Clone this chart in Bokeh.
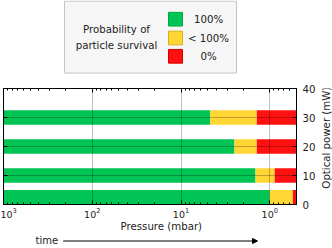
import math
from bokeh.plotting import figure
from bokeh.models import Range1d, LogAxis, LinearAxis, FixedTicker, Arrow, NormalHead
from bokeh.layouts import column, row
from bokeh.core.properties import value
from bokeh.embed import file_html
from bokeh.resources import INLINE

# ---- data ----
power_mw = [2.5, 10, 20, 30]                 # optical power of each run (mW)
green_until = [1.0, 1.45, 2.5, 4.7]          # pressure (mbar) down to which survival is 100%
yellow_until = [0.55, 0.88, 1.4, 1.4]        # pressure (mbar) down to which survival is < 100%
p_start = 1000.0                             # pressure at start (mbar)
p_end = 0.5                                  # lowest pressure shown (mbar)
legend_title = ["Probability of", "particle survival"]
legend_labels = ["100%", "< 100%", "0%"]
x_ticks = [1000, 100, 10, 1]
y_ticks = [0, 10, 20, 30, 40]
y_grid = [10, 20, 30]
x_title = "Pressure (mbar)"
y_title = "Optical power (mW)"
time_label = "time"

colors = ["#00c453", "#ffd633", "#ff1111"]
edges = ["#00a846", "#d9ad1f", "#d40000"]
FONT = "DejaVu Sans"
FS = "10.2px"
TXT = "#222222"
W = 332

def bare(fig):
    fig.grid.visible = False
    fig.outline_line_color = None
    return fig

# ---- legend panel ----
LH = 76
leg = bare(figure(width=W, height=LH, x_range=Range1d(0, W), y_range=Range1d(LH, 0),
                  toolbar_location=None, output_backend="svg", min_border=0,
                  x_axis_location=None, y_axis_location=None))
leg.quad(left=64, right=236, top=0.6, bottom=72.6, fill_color="#f6f6f6", line_color="#c4c4c4")
row_y = [18.7, 37.5, 55.8]
leg.rect(x=175, y=row_y, width=14, height=13.7, fill_color=colors, line_color=edges, line_width=1)
leg.text(x=116, y=[29, 44.5], text=legend_title, text_align="center", text_baseline="middle",
         text_font=value(FONT), text_font_size=FS, text_color=TXT)
leg.text(x=208, y=row_y, text=legend_labels, text_align="center", text_baseline="middle",
         text_font=value(FONT), text_font_size=FS, text_color=TXT)

# ---- main chart ----
MH = 158
PW = 318
p = figure(width=PW, height=MH, x_axis_type="log", x_range=Range1d(p_start, p_end),
           y_range=Range1d(0, 40), y_axis_location="right",
           toolbar_location=None, output_backend="svg",
           min_border_left=3, min_border_right=21, min_border_top=12, min_border_bottom=29)
p.outline_line_color = "black"
p.outline_line_alpha = 1.0

H = 5
p.hbar(y=power_mw, left=p_start, right=green_until, height=H, fill_color=colors[0], line_color=None)
p.hbar(y=power_mw, left=green_until, right=yellow_until, height=H, fill_color=colors[1], line_color=None)
p.hbar(y=power_mw, left=yellow_until, right=p_end, height=H, fill_color=colors[2], line_color=None)

minor = [m * 10.0 ** k for k in range(-1, 3) for m in range(2, 10)]
xt = FixedTicker(ticks=x_ticks, minor_ticks=minor)

p.xgrid.ticker = FixedTicker(ticks=x_ticks)
p.ygrid.ticker = FixedTicker(ticks=y_grid)
for g in (p.xgrid, p.ygrid):
    g.grid_line_color = "black"
    g.grid_line_alpha = 0.25
    g.level = "overlay"

def style_axis(ax, labels=True):
    ax.axis_line_color = "black"
    ax.major_tick_line_color = "black"
    ax.minor_tick_line_color = "black"
    ax.major_tick_in = 4
    ax.major_tick_out = 0
    ax.minor_tick_in = 2
    ax.minor_tick_out = 0
    ax.major_label_text_font = FONT
    ax.major_label_text_color = TXT
    ax.axis_label_text_font = FONT
    ax.axis_label_text_font_style = "normal"
    ax.axis_label_text_color = TXT
    if labels:
        ax.major_label_text_font_size = FS
        ax.axis_label_text_font_size = FS
    else:
        ax.major_label_text_font_size = "1px"
        ax.major_label_text_alpha = 0
        ax.major_label_standoff = 0

xa = p.xaxis[0]
xa.ticker = xt
style_axis(xa)
xa.major_label_text_font_size = "9.5px"
xa.axis_label = "\u00a0" * 7 + x_title
xa.major_label_standoff = 3
xa.axis_label_standoff = 0

top = LogAxis(ticker=xt)
style_axis(top, labels=False)
p.add_layout(top, "above")

ya = p.yaxis[0]
ya.ticker = FixedTicker(ticks=y_ticks)
style_axis(ya)
ya.minor_tick_in = 0
ya.major_label_standoff = 6

left = LinearAxis(ticker=FixedTicker(ticks=y_ticks))
style_axis(left, labels=False)
left.minor_tick_in = 0
p.add_layout(left, "left")

# ---- right-hand axis title (reads bottom to top) ----
RW = W - PW
yt = bare(figure(width=RW, height=MH, x_range=Range1d(0, RW), y_range=Range1d(0, MH),
                 toolbar_location=None, output_backend="svg", min_border=0,
                 x_axis_location=None, y_axis_location=None))
yt.text(x=RW / 2 + 0.5, y=MH - 67, text=[y_title], angle=math.pi / 2, text_align="center",
        text_baseline="middle", text_font=value(FONT), text_font_size=FS, text_color=TXT)

# ---- time arrow ----
TH = 12
tf = bare(figure(width=W, height=TH, x_range=Range1d(0, W), y_range=Range1d(0, TH),
                 toolbar_location=None, output_backend="svg", min_border=0,
                 x_axis_location=None, y_axis_location=None))
tf.text(x=35, y=6, text=[time_label], text_align="left", text_baseline="middle",
        text_font=value(FONT), text_font_size="10px", text_color=TXT)
tf.add_layout(Arrow(x_start=62.7, y_start=5.5, x_end=257, y_end=5.5, line_width=1, line_color="black",
                    end=NormalHead(size=5, fill_color="black", line_color="black")))

layout = column(leg, row(p, yt, spacing=0), tf, spacing=0)
open("out.html", "w").write(file_html(layout, INLINE))
